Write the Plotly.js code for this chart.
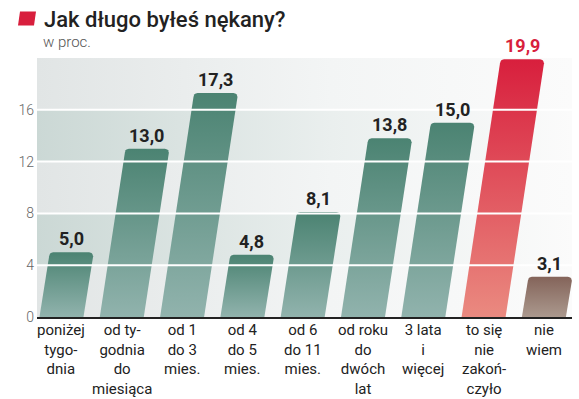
<!DOCTYPE html>
<html>
<head>
<meta charset="utf-8">
<script src="https://cdn.plot.ly/plotly-3.0.1.min.js"></script>
<style>html,body{margin:0;padding:0;background:#fff;}#chart{width:579px;height:399px;}</style>
</head>
<body>
<div id="chart"></div>
<script>
// ---- data ----
const categories = [
  'poniżej<br>tygo-<br>dnia',
  'od ty-<br>godnia<br>do<br>miesiąca',
  'od 1<br>do 3<br>mies.',
  'od 4<br>do 5<br>mies.',
  'od 6<br>do 11<br>mies.',
  'od roku<br>do<br>dwóch<br>lat',
  '3 lata<br>i<br>więcej',
  'to się<br>nie<br>zakoń-<br>czyło',
  'nie<br>wiem'
];
const values = [5.0, 13.0, 17.3, 4.8, 8.1, 13.8, 15.0, 19.9, 3.1];
const yTicks = [0, 4, 8, 12, 16];
const titleText = 'Jak długo byłeś nękany?';
const subtitleText = 'w proc.';

// ---- styling ----
const green = {top: '#4b8372', bottom: '#91b3ad', label: '#222'};
const red = {top: '#d81f3d', bottom: '#ea8a80', label: '#d81f3d'};
const brown = {top: '#84645a', bottom: '#ab998e', label: '#222'};
const barStyle = values.map((v, i) => i === 7 ? red : (i === 8 ? brown : green));

const W = 579, H = 399;
const M = {l: 37, r: 7, t: 58, b: 82};
const xRange = [-0.406, 8.466];
const yRange = [0, 20];
const pxPerX = (W - M.l - M.r) / (xRange[1] - xRange[0]);
const pxPerY = (H - M.t - M.b) / (yRange[1] - yRange[0]);
const slant = 1.93 / pxPerX;       // x shift per y unit
const barW = 44 / pxPerX;
const rPx = 4;

function barPath(i, v) {
  const rx = rPx / pxPerX, ry = rPx / pxPerY;
  const xl0 = i - barW / 2, xr0 = i + barW / 2;
  const xl1 = xl0 + slant * v, xr1 = xr0 + slant * v;
  const xs = [xl0, xr0], ys = [0, 0];
  const n = 5;
  for (let k = 0; k <= n; k++) {
    const a = (k / n) * Math.PI / 2;
    xs.push(xr1 - rx + rx * Math.cos(a));
    ys.push(v - ry + ry * Math.sin(a));
  }
  for (let k = 0; k <= n; k++) {
    const a = Math.PI / 2 + (k / n) * Math.PI / 2;
    xs.push(xl1 + rx + rx * Math.cos(a));
    ys.push(v - ry + ry * Math.sin(a));
  }
  xs.push(xl0); ys.push(0);
  return {xs, ys};
}

const traces = [];
function band(y0, y1, cLeft, cRight) {
  return {
    type: 'scatter', mode: 'lines',
    x: [xRange[0], xRange[1], xRange[1], xRange[0], xRange[0]],
    y: [y0, y0, y1, y1, y0],
    line: {width: 0}, fill: 'toself', fillcolor: cLeft,
    fillgradient: {type: 'horizontal', colorscale: [[0, cLeft], [0.55, cRight], [1, '#fbfbfb']]},
    hoverinfo: 'skip', showlegend: false
  };
}
for (let k = 0; k < yTicks.length; k++) {
  const y0 = yTicks[k];
  const y1 = k + 1 < yTicks.length ? yTicks[k + 1] : yRange[1];
  if (k % 2 === 1) traces.push(band(y0, y1, '#cbd8d5', '#eaefee'));
  else traces.push(band(y0, y1, '#e1e5e5', '#f3f5f5'));
}

values.forEach((v, i) => {
  const p = barPath(i, v);
  const st = barStyle[i];
  traces.push({
    type: 'scatter', mode: 'lines', x: p.xs, y: p.ys,
    line: {width: 0}, fill: 'toself', fillcolor: st.top,
    fillgradient: {type: 'vertical', colorscale: [[0, st.bottom], [1, st.top]]},
    hoverinfo: 'skip', showlegend: false
  });
});

const annotations = [];
values.forEach((v, i) => {
  annotations.push({
    x: i + slant * v, y: v, xref: 'x', yref: 'y',
    text: v.toFixed(1).replace('.', ','), showarrow: false,
    yanchor: 'bottom', yshift: 1,
    font: {family: 'Roboto, sans-serif', size: 18, weight: 700, color: barStyle[i].label}
  });
});
categories.forEach((c, i) => {
  annotations.push({
    x: i, y: 0, xref: 'x', yref: 'paper',
    text: c, showarrow: false, yanchor: 'top', xanchor: 'center',
    borderpad: 0, yshift: -3,
    font: {family: 'Roboto, sans-serif', size: 15, color: '#222'}
  });
});
annotations.push({
  xref: 'paper', yref: 'paper', x: (42 - M.l) / (W - M.l - M.r), y: (H - M.b - 19) / (H - M.t - M.b),
  xanchor: 'left', yanchor: 'middle', text: titleText, showarrow: false,
  font: {family: 'Roboto, sans-serif', size: 22, weight: 500, color: '#222'}
});
annotations.push({
  xref: 'paper', yref: 'paper', x: (41 - M.l) / (W - M.l - M.r), y: (H - M.b - 42) / (H - M.t - M.b),
  xanchor: 'left', yanchor: 'middle', text: subtitleText, showarrow: false,
  font: {family: 'Roboto, sans-serif', size: 15, weight: 300, color: '#555'}
});

const pw = W - M.l - M.r, ph = H - M.t - M.b;
const px = x => (x - M.l) / pw, py = y => (H - M.b - y) / ph;
const shapes = [];
yTicks.filter(t => t > 0).forEach(t => {
  shapes.push({type: 'line', xref: 'paper', yref: 'y', x0: 0, x1: 1, y0: t, y1: t,
    line: {color: '#ffffff', width: 2}, layer: 'above'});
});
shapes.push({type: 'path', xref: 'paper', yref: 'paper', layer: 'above',
  path: `M ${px(18)},${py(25.5)} L ${px(34)},${py(25.5)} L ${px(36)},${py(11.5)} L ${px(20)},${py(11.5)} Z`,
  fillcolor: '#d81f3d', line: {width: 0}});

const layout = {
  width: W, height: H,
  margin: M,
  paper_bgcolor: '#ffffff', plot_bgcolor: '#ffffff',
  showlegend: false,
  xaxis: {range: xRange, showgrid: false, zeroline: false, showticklabels: false,
    showline: true, linecolor: '#222', linewidth: 2, ticks: '', fixedrange: true},
  yaxis: {range: yRange, tickvals: yTicks, ticktext: yTicks.map(String), showgrid: false,
    zeroline: false, showline: false, ticks: '', ticklabelstandoff: 2,
    tickfont: {family: 'Roboto, sans-serif', size: 14, weight: 300, color: '#666'}, fixedrange: true},
  annotations, shapes
};
Plotly.newPlot('chart', traces, layout, {displayModeBar: false, staticPlot: true});
</script>
</body>
</html>
